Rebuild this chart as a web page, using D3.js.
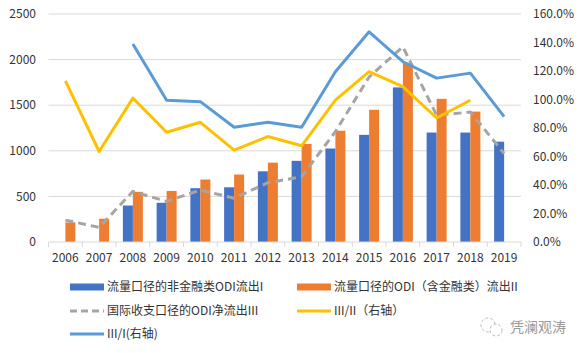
<!DOCTYPE html>
<html>
<head>
<meta charset="utf-8">
<script src="https://cdn.jsdelivr.net/npm/d3@7"></script>
<style>
  body { margin: 0; background: #fff; }
  svg text { font-family: "Noto Sans CJK SC", "Noto Sans", sans-serif; }
</style>
</head>
<body>
<div id="chart"></div>
<script>
// categories and series
var years = ["2006","2007","2008","2009","2010","2011","2012","2013","2014","2015","2016","2017","2018","2019"];
var nonFinOdi = [null, null, 400, 430, 590, 600, 775, 890, 1025, 1175, 1695, 1200, 1200, 1100];   // I
var totalOdi  = [215, 255, 550, 560, 685, 740, 870, 1075, 1220, 1450, 1960, 1570, 1430, null];   // II
var bopOdi    = [240, 160, 555, 445, 570, 480, 650, 715, 1210, 1810, 2140, 1390, 1425, 970];    // III
var ratioIII_II = [113, 63.5, 101, 77, 84, 64.5, 74, 67.5, 99.5, 119.5, 109, 87, 99.5, null];    // %
var ratioIII_I  = [null, null, 139, 99.5, 98.5, 80.5, 84, 80.5, 119.5, 147.5, 126.5, 115, 118.5, 88]; // %

var leftTicks = [0, 500, 1000, 1500, 2000, 2500];
var rightTicks = [0, 20, 40, 60, 80, 100, 120, 140, 160];

var width = 584, height = 353;
var margin = {top: 14, right: 63, bottom: 111, left: 48.5};

var svg = d3.select("#chart")
  .append("svg")
  .attr("width", width)
  .attr("height", height);

var x = d3.scaleBand()
  .domain(years)
  .range([margin.left, width - margin.right]);

var y = d3.scaleLinear()
  .domain([0, 2500])
  .range([height - margin.bottom, margin.top]);

var y2 = d3.scaleLinear()
  .domain([0, 160])
  .range([height - margin.bottom, margin.top]);

// gridlines
svg.append("g")
  .selectAll("line")
  .data(leftTicks.slice(1))
  .enter()
  .append("line")
    .attr("x1", margin.left)
    .attr("x2", width - margin.right)
    .attr("y1", function(d){ return y(d) })
    .attr("y2", function(d){ return y(d) })
    .attr("stroke", "#d9d9d9")
    .attr("stroke-width", 1);

// left axis labels
svg.append("g")
  .selectAll("text")
  .data(leftTicks)
  .enter()
  .append("text")
    .attr("x", 36)
    .attr("y", function(d){ return y(d) })
    .attr("dy", "0.35em")
    .attr("text-anchor", "end")
    .attr("font-size", 12)
    .attr("fill", "#333")
    .text(function(d){ return d });

// right axis labels
svg.append("g")
  .selectAll("text")
  .data(rightTicks)
  .enter()
  .append("text")
    .attr("x", 533)
    .attr("y", function(d){ return y2(d) })
    .attr("dy", "0.35em")
    .attr("font-size", 12)
    .attr("fill", "#333")
    .text(function(d){ return d.toFixed(1) + "%" });

// bars
var barW = 10;
function drawBars(values, color, offset) {
  svg.append("g")
    .selectAll("rect")
    .data(years.map(function(d, i){ return {year: d, v: values[i]} }).filter(function(d){ return d.v != null }))
    .enter()
    .append("rect")
      .attr("x", function(d){ return x(d.year) + x.bandwidth()/2 + offset })
      .attr("y", function(d){ return y(d.v) })
      .attr("width", barW)
      .attr("height", function(d){ return y(0) - y(d.v) })
      .attr("fill", color);
}
drawBars(nonFinOdi, "#4472C4", -barW);
drawBars(totalOdi, "#ED7D31", 0);

// x axis
var xAxis = svg.append("g")
  .attr("transform", "translate(0," + y(0) + ")");
xAxis.append("line")
  .attr("x1", margin.left).attr("x2", width - margin.right)
  .attr("stroke", "#d9d9d9");
xAxis.selectAll(".tk")
  .data(d3.range(years.length + 1))
  .enter()
  .append("line")
    .attr("x1", function(i){ return margin.left + i * x.step() })
    .attr("x2", function(i){ return margin.left + i * x.step() })
    .attr("y1", 0).attr("y2", 5)
    .attr("stroke", "#d9d9d9");
xAxis.selectAll("text")
  .data(years)
  .enter()
  .append("text")
    .attr("x", function(d){ return x(d) + x.bandwidth()/2 })
    .attr("y", 20)
    .attr("text-anchor", "middle")
    .attr("font-size", 12)
    .attr("fill", "#333")
    .text(function(d){ return d });

// lines
function drawLine(values, scale, color, dash) {
  var line = d3.line()
    .defined(function(d){ return d != null })
    .x(function(d, i){ return x(years[i]) + x.bandwidth()/2 })
    .y(function(d){ return scale(d) });
  svg.append("path")
    .datum(values)
    .attr("d", line)
    .attr("fill", "none")
    .attr("stroke", color)
    .attr("stroke-width", 3)
    .attr("stroke-dasharray", dash || null)
    .attr("stroke-linejoin", "round");
}
drawLine(bopOdi, y, "#A5A5A5", "8,5");
drawLine(ratioIII_II, y2, "#FFC000");
drawLine(ratioIII_I, y2, "#5B9BD5");

// legend
var legend = [
  {label: "流量口径的非金融类ODI流出I", color: "#4472C4", type: "bar", x: 70, y: 287},
  {label: "流量口径的ODI（含金融类）流出II", color: "#ED7D31", type: "bar", x: 297, y: 287},
  {label: "国际收支口径的ODI净流出III", color: "#A5A5A5", type: "dash", x: 70, y: 311},
  {label: "III/II（右轴）", color: "#FFC000", type: "line", x: 297, y: 311},
  {label: "III/I(右轴)", color: "#5B9BD5", type: "line", x: 70, y: 334}
];
var lg = svg.append("g")
  .selectAll("g")
  .data(legend)
  .enter()
  .append("g")
    .attr("transform", function(d){ return "translate(" + d.x + "," + d.y + ")" });
lg.append("line")
  .attr("x1", 0).attr("x2", 34)
  .attr("stroke", function(d){ return d.color })
  .attr("stroke-width", function(d){ return d.type == "bar" ? 7 : 3 })
  .attr("stroke-dasharray", function(d){ return d.type == "dash" ? "7,4" : null });
lg.append("text")
  .attr("x", 37)
  .attr("dy", "0.35em")
  .attr("font-size", 12)
  .attr("fill", "#333")
  .text(function(d){ return d.label });

// watermark
var wm = svg.append("g").attr("transform", "translate(480,327)");
wm.append("circle").attr("cx", 8).attr("cy", -2).attr("r", 7)
  .attr("fill", "none").attr("stroke", "#bbb").attr("stroke-width", 1).attr("stroke-dasharray", "3,2");
wm.append("circle").attr("cx", 16).attr("cy", 3).attr("r", 6)
  .attr("fill", "#fff").attr("stroke", "#bbb").attr("stroke-width", 1).attr("stroke-dasharray", "3,2");
wm.append("text")
  .attr("x", 30)
  .attr("dy", "0.35em")
  .attr("font-size", 14)
  .attr("fill", "#999")
  .text("凭澜观涛");
</script>
</body>
</html>
